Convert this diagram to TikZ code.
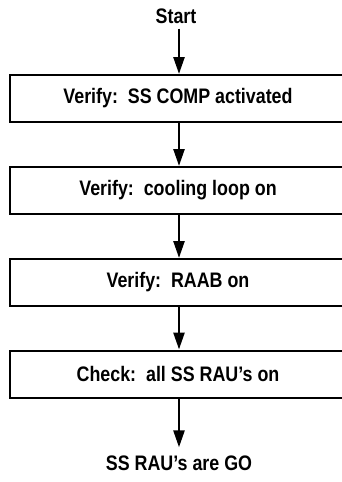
\documentclass[tikz,border=0pt]{standalone}
\usepackage{fontspec}
\setmainfont{Liberation Sans}[FakeStretch=0.85]
\usetikzlibrary{arrows.meta}
\tikzset{
  lbl/.style={font=\bfseries\fontsize{21}{25}\selectfont,inner sep=2pt},
  stepbox/.style={lbl,draw,line width=2pt,minimum width=336pt,minimum height=47pt},
  flow/.style={line width=2.5pt,-{Triangle[length=17pt,width=11pt]}}
}

\begin{document}
\begin{tikzpicture}[x=1pt,y=-1pt]
\useasboundingbox (0,0) rectangle (342,482);
\node[lbl] (start) at (176,16) {Start};
\node[stepbox] (comp) at (178,98.5) {Verify:\ \ SS COMP activated};
\node[stepbox] (loop) at (178,190.5) {Verify:\ \ cooling loop on};
\node[stepbox] (raab) at (178,282.5) {Verify:\ \ RAAB on};
\node[stepbox] (rau) at (178,374) {Check:\ \ all SS RAU’s on};
\node[lbl] (go) at (179,463) {SS RAU’s are GO};
\coordinate (axis) at (179,0);
\draw[flow,shorten <=3pt] (start.south -| axis) -- (comp.north -| axis);
\draw[flow] (comp.south -| axis) -- (loop.north -| axis);
\draw[flow] (loop.south -| axis) -- (raab.north -| axis);
\draw[flow] (raab.south -| axis) -- (rau.north -| axis);
\draw[flow,shorten >=6pt] (rau.south -| axis) -- (go.north -| axis);
\end{tikzpicture}
\end{document}
